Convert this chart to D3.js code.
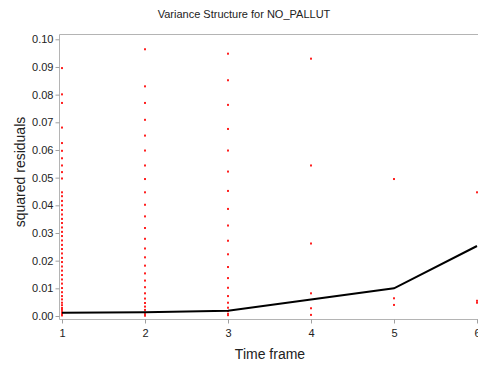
<!DOCTYPE html>
<html>
<head>
<meta charset="utf-8">
<script src="https://cdn.jsdelivr.net/npm/d3@7"></script>
<style>
  body { margin: 0; background: #fff; }
  text { font-family: "Liberation Sans", Arial, sans-serif; fill: #222; }
</style>
</head>
<body>
<div id="chart"></div>
<script>
// squared residuals per time frame
var t1 = [0.0896, 0.0801, 0.0770, 0.0681, 0.0625, 0.0597, 0.0570, 0.0544, 0.0520, 0.0497,
  0.0447, 0.0433, 0.0416, 0.0400, 0.0383, 0.0367, 0.0351, 0.0336, 0.0320, 0.0304,
  0.0289, 0.0273, 0.0257, 0.0242, 0.0226, 0.0210, 0.0195, 0.0179, 0.0164, 0.0148,
  0.0132, 0.0117, 0.0101, 0.0086, 0.0072, 0.0060, 0.0048, 0.0039, 0.0029, 0.0022,
  0.0014, 0.0007, 0.0002]
var t2 = [0.0964, 0.0830, 0.0770, 0.0709, 0.0652, 0.0598, 0.0544, 0.0495, 0.0447, 0.0402,
  0.0360, 0.0318, 0.0279, 0.0244, 0.0212, 0.0182, 0.0154, 0.0128, 0.0104, 0.0082,
  0.0063, 0.0047, 0.0034, 0.0022, 0.0012, 0.0006, 0.0001]
var t3 = [0.0948, 0.0852, 0.0763, 0.0676, 0.0598, 0.0522, 0.0452, 0.0387, 0.0327, 0.0272,
  0.0223, 0.0177, 0.0137, 0.0102, 0.0072, 0.0048, 0.0030, 0.0018, 0.0008, 0.0003]
var t4 = [0.0930, 0.0544, 0.0262, 0.0082, 0.0028, 0.0004]
var t5 = [0.0495, 0.0064, 0.0040]
var t6 = [0.0447, 0.0055, 0.0048]

// mean squared residual (the black line)
var frames = [1, 2, 3, 4, 5, 6]
var meanRes = [0.0012, 0.0014, 0.0019, 0.0060, 0.0100, 0.0253]

var yTicks = [0, 0.01, 0.02, 0.03, 0.04, 0.05, 0.06, 0.07, 0.08, 0.09, 0.10]

var points = []
;[t1, t2, t3, t4, t5, t6].forEach(function (arr, i) {
  arr.forEach(function (v) { points.push({ t: frames[i], v: v }) })
})

var W = 478, H = 365
var plotLeft = 59.5, plotTop = 34.5, plotBottom = 319.5

var svg = d3.select("#chart").append("svg")
  .attr("width", W).attr("height", H)

var x = d3.scaleLinear().domain([1, 6]).range([62, 477])
var y = d3.scaleLinear().domain([0, 0.10]).range([316, 39.3])

// frame lines (left, top, bottom)
var frame = svg.append("g").attr("stroke", "#b4b4b4").attr("stroke-width", 1)
frame.append("line").attr("x1", plotLeft).attr("x2", plotLeft).attr("y1", plotTop).attr("y2", plotBottom)
frame.append("line").attr("x1", plotLeft).attr("x2", W).attr("y1", plotTop).attr("y2", plotTop)
frame.append("line").attr("x1", plotLeft).attr("x2", W).attr("y1", plotBottom).attr("y2", plotBottom)

// y axis
var yAxis = svg.append("g")
  .attr("transform", "translate(" + plotLeft + ",0)")
  .call(d3.axisLeft(y).tickValues(yTicks).tickFormat(d3.format(".2f")).tickSize(4).tickPadding(2))
yAxis.select(".domain").remove()
yAxis.selectAll("line").attr("stroke", "#a0a0a0")
yAxis.selectAll("text").style("font-size", "11px").attr("fill", "#222")

// x axis
var xAxis = svg.append("g")
  .attr("transform", "translate(0," + plotBottom + ")")
  .call(d3.axisBottom(x).tickValues(frames).tickFormat(d3.format("d")).tickSize(4).tickPadding(6))
xAxis.select(".domain").remove()
xAxis.selectAll("line").attr("stroke", "#a0a0a0")
xAxis.selectAll("text").style("font-size", "11px").attr("fill", "#222")

// residual points
svg.append("g").selectAll("rect")
  .data(points)
  .enter().append("rect")
    .attr("x", function (d) { return x(d.t) - 1 })
    .attr("y", function (d) { return y(d.v) - 1 })
    .attr("width", 2).attr("height", 2)
    .attr("fill", "#ff2020")

// mean line
svg.append("path")
  .datum(frames.map(function (f, i) { return { t: f, v: meanRes[i] } }))
  .attr("fill", "none")
  .attr("stroke", "#000")
  .attr("stroke-width", 2)
  .attr("d", d3.line()
    .x(function (d) { return x(d.t) })
    .y(function (d) { return y(d.v) }))

// titles
svg.append("text")
  .attr("x", 244).attr("y", 18)
  .attr("text-anchor", "middle")
  .style("font-size", "11px")
  .text("Variance Structure for NO_PALLUT")

svg.append("text")
  .attr("x", 270).attr("y", 359)
  .attr("text-anchor", "middle")
  .style("font-size", "14px")
  .text("Time frame")

svg.append("text")
  .attr("transform", "translate(25,172) rotate(-90)")
  .attr("text-anchor", "middle")
  .style("font-size", "14px")
  .text("squared residuals")
</script>
</body>
</html>
